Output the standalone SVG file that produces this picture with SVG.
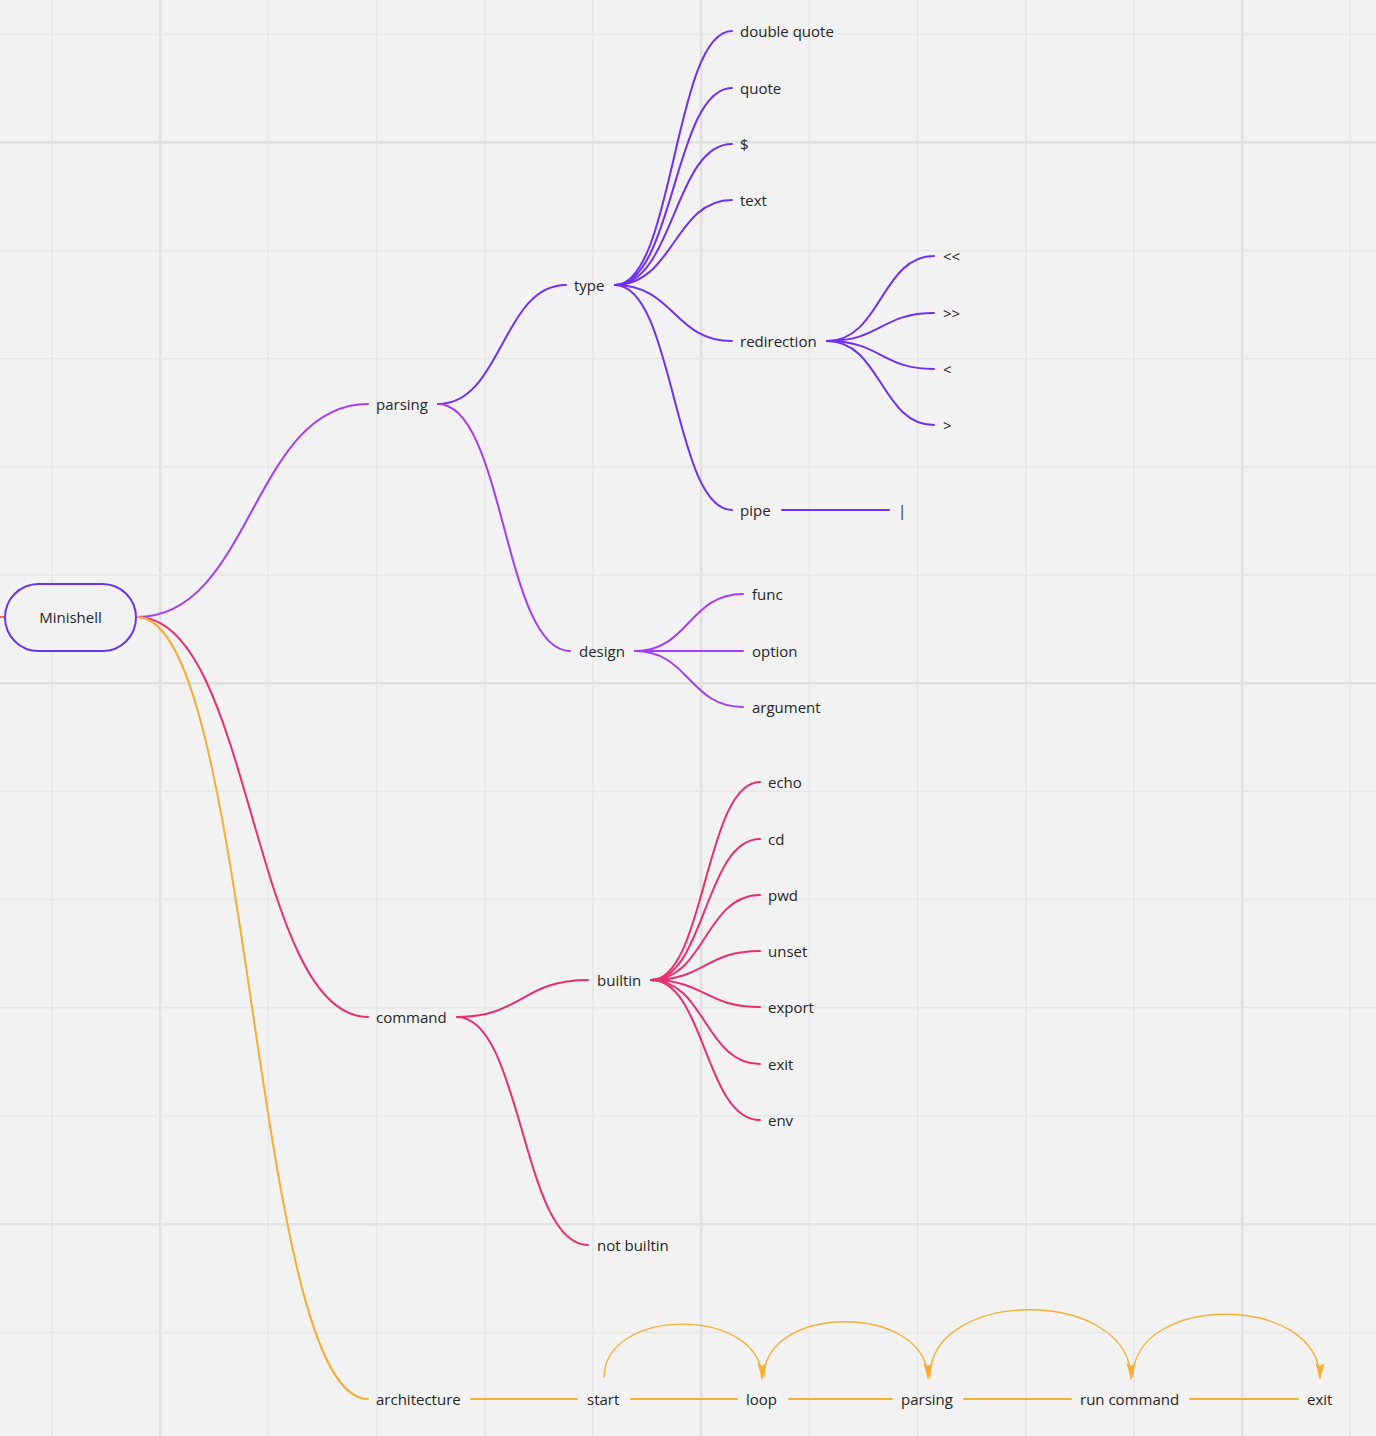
<svg xmlns="http://www.w3.org/2000/svg" width="1376" height="1436" viewBox="0 0 1376 1436">
<style>
.g{stroke:#e6e6e6;stroke-width:1.5}
.gt{stroke:#e0e0e0;stroke-width:2.5}
.t{font-family:"Open Sans","Noto Sans","Liberation Sans",sans-serif;font-size:15px;fill:#262626}
.c{fill:none;stroke-width:2;stroke-linecap:round}
.pp{stroke:#a53ef5}
.pt{stroke:#7130f5}
.pk{stroke:#e8306e}
.or{stroke:#f5ae35}
.arc{fill:none;stroke:#f5ae35;stroke-width:1.3}
</style>
<defs>
<marker id="ah" markerUnits="userSpaceOnUse" markerWidth="17" markerHeight="10" refX="16" refY="5" orient="auto" viewBox="0 0 17 10">
<path d="M0,0.5 L17,5 L0,9.5 L3,5 Z" fill="#f5ae35"/>
</marker>
</defs>
<rect width="1376" height="1436" fill="#f2f2f2"/>
<g id="grid">
<path class="g" d="M52,0V1436M268.4,0V1436M376.6,0V1436M484.8,0V1436M593,0V1436M809.4,0V1436M917.6,0V1436M1025.8,0V1436M1134,0V1436M1350.4,0V1436"/>
<path class="gt" d="M160.2,0V1436M701.2,0V1436M1242.2,0V1436"/>
<path class="g" d="M0,34H1376M0,250.4H1376M0,358.6H1376M0,466.8H1376M0,575H1376M0,791.4H1376M0,899.6H1376M0,1007.8H1376M0,1116H1376M0,1332.4H1376"/>
<path class="gt" d="M0,142.2H1376M0,683.2H1376M0,1224.2H1376"/>
</g>
<g id="connectors">
<path d="M0,617H4" stroke="#f26d3d" stroke-width="2"/>
<path class="c pp" d="M137,617 C252,617 252,404 368,404"/>
<path class="c pk" d="M137,617 C252,617 252,1017 368,1017"/>
<path class="c or" d="M137,617 C252,617 252,1399 368,1399"/>
<path class="c pt" d="M438,404 C502,404 502,285 566,285"/>
<path class="c pp" d="M438,404 C504,404 504,651 570,651"/>
<path class="c pt" d="M615,285 C674,285 674,31 732,31"/>
<path class="c pt" d="M615,285 C674,285 674,88 732,88"/>
<path class="c pt" d="M615,285 C674,285 674,144 732,144"/>
<path class="c pt" d="M615,285 C674,285 674,200 732,200"/>
<path class="c pt" d="M615,285 C674,285 674,341 732,341"/>
<path class="c pt" d="M615,285 C674,285 674,510 732,510"/>
<path class="c pt" d="M827,341 C881,341 881,256 934,256"/>
<path class="c pt" d="M827,341 C881,341 881,313 934,313"/>
<path class="c pt" d="M827,341 C881,341 881,369 934,369"/>
<path class="c pt" d="M827,341 C881,341 881,425 934,425"/>
<path class="c pt" d="M782,510H889"/>
<path class="c pp" d="M635,651 C689,651 689,594 743,594"/>
<path class="c pp" d="M635,651H743"/>
<path class="c pp" d="M635,651 C689,651 689,707 743,707"/>
<path class="c pk" d="M457,1017 C522,1017 522,980 588,980"/>
<path class="c pk" d="M457,1017 C522,1017 522,1245 588,1245"/>
<path class="c pk" d="M651,980 C705,980 705,782 760,782"/>
<path class="c pk" d="M651,980 C705,980 705,839 760,839"/>
<path class="c pk" d="M651,980 C705,980 705,895 760,895"/>
<path class="c pk" d="M651,980 C705,980 705,951 760,951"/>
<path class="c pk" d="M651,980 C705,980 705,1007 760,1007"/>
<path class="c pk" d="M651,980 C705,980 705,1064 760,1064"/>
<path class="c pk" d="M651,980 C705,980 705,1120 760,1120"/>
<path class="c or" d="M471,1399H577"/>
<path class="c or" d="M631,1399H737"/>
<path class="c or" d="M789,1399H892"/>
<path class="c or" d="M964,1399H1071"/>
<path class="c or" d="M1190,1399H1298"/>
<path class="arc" d="M604,1378 C604,1306 762,1306 762,1379" marker-end="url(#ah)"/>
<path class="arc" d="M764,1377 C764,1303 928,1303 928,1379" marker-end="url(#ah)"/>
<path class="arc" d="M930,1377 C930,1287 1131,1287 1131,1379" marker-end="url(#ah)"/>
<path class="arc" d="M1133,1377 C1133,1293 1320,1293 1320,1379" marker-end="url(#ah)"/>
</g>
<g id="n-minishell"><rect x="5" y="584" width="131" height="67" rx="33.5" fill="#f2f2f2" stroke="#6a35f0" stroke-width="2"/><text class="t" x="70.5" y="623" text-anchor="middle">Minishell</text></g>
<g id="n-parsing"><text class="t" x="376" y="410">parsing</text></g>
<g id="n-type"><text class="t" x="574" y="291">type</text></g>
<g id="n-dq"><text class="t" x="740" y="37">double quote</text></g>
<g id="n-quote"><text class="t" x="740" y="94">quote</text></g>
<g id="n-dollar"><text class="t" x="740" y="150">$</text></g>
<g id="n-text"><text class="t" x="740" y="206">text</text></g>
<g id="n-redirection"><text class="t" x="740" y="347">redirection</text></g>
<g id="n-ll"><text class="t" x="943" y="262">&lt;&lt;</text></g>
<g id="n-gg"><text class="t" x="943" y="319">&gt;&gt;</text></g>
<g id="n-l"><text class="t" x="943" y="375">&lt;</text></g>
<g id="n-g"><text class="t" x="943" y="431">&gt;</text></g>
<g id="n-pipe"><text class="t" x="740" y="516">pipe</text></g>
<g id="n-bar"><text class="t" x="898" y="516">|</text></g>
<g id="n-design"><text class="t" x="579" y="657">design</text></g>
<g id="n-func"><text class="t" x="752" y="600">func</text></g>
<g id="n-option"><text class="t" x="752" y="657">option</text></g>
<g id="n-argument"><text class="t" x="752" y="713">argument</text></g>
<g id="n-command"><text class="t" x="376" y="1023">command</text></g>
<g id="n-builtin"><text class="t" x="597" y="986">builtin</text></g>
<g id="n-echo"><text class="t" x="768" y="788">echo</text></g>
<g id="n-cd"><text class="t" x="768" y="845">cd</text></g>
<g id="n-pwd"><text class="t" x="768" y="901">pwd</text></g>
<g id="n-unset"><text class="t" x="768" y="957">unset</text></g>
<g id="n-export"><text class="t" x="768" y="1013">export</text></g>
<g id="n-exit"><text class="t" x="768" y="1070">exit</text></g>
<g id="n-env"><text class="t" x="768" y="1126">env</text></g>
<g id="n-notbuiltin"><text class="t" x="597" y="1251">not builtin</text></g>
<g id="n-architecture"><text class="t" x="376" y="1405">architecture</text></g>
<g id="n-start"><text class="t" x="587" y="1405">start</text></g>
<g id="n-loop"><text class="t" x="746" y="1405">loop</text></g>
<g id="n-parsing2"><text class="t" x="901" y="1405">parsing</text></g>
<g id="n-run"><text class="t" x="1080" y="1405">run command</text></g>
<g id="n-exit2"><text class="t" x="1307" y="1405">exit</text></g>
</svg>
